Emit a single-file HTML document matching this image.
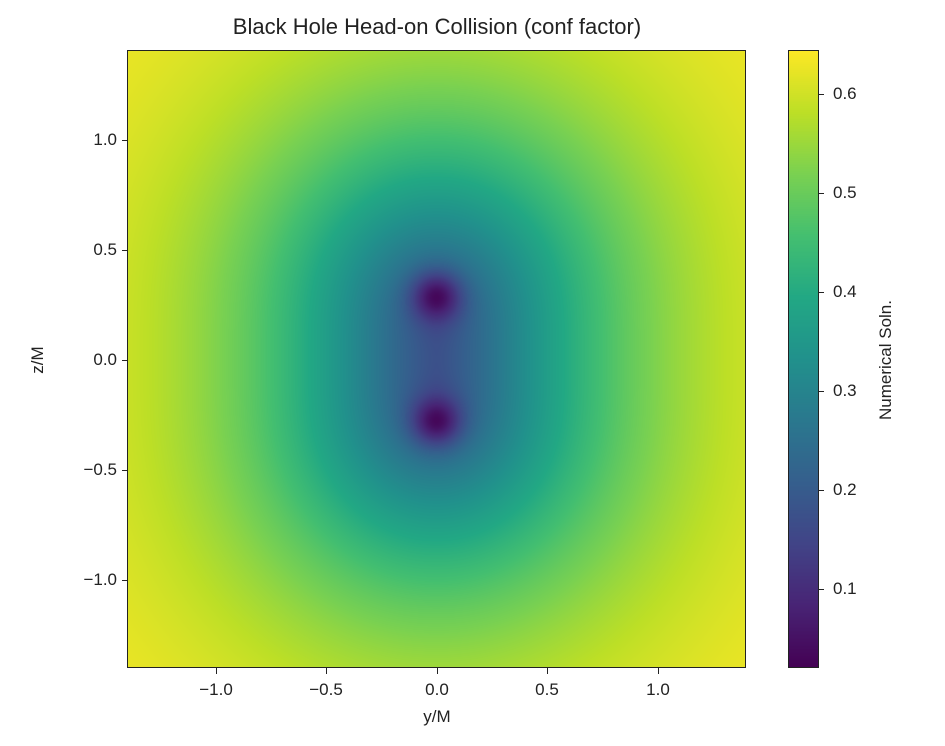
<!DOCTYPE html>
<html><head><meta charset="utf-8"><style>
body{margin:0;background:#fff;width:945px;height:746px;position:relative;overflow:hidden;font-family:"Liberation Sans","DejaVu Sans",sans-serif;color:#222}
canvas{position:absolute}
.t{position:absolute;font-size:17px;white-space:nowrap}
.xl{transform:translateX(-50%);top:680px}
.yl{right:828px;transform:translateY(-50%)}
.cl{left:833px;transform:translateY(-50%)}
.tk{position:absolute;background:#222}
</style></head><body>
<div class="t" style="left:437px;top:14px;transform:translateX(-50%);font-size:22px">Black Hole Head-on Collision (conf factor)</div>
<canvas id="c" width="617" height="616" style="left:128px;top:51px;border:1.3px solid #222;margin:-1px"></canvas>
<canvas id="cb" width="29" height="616" style="left:789px;top:51px;border:1.3px solid #222;margin:-1px"></canvas>
<div class="t xl" style="left:216px">−1.0</div>
<div class="t xl" style="left:326px">−0.5</div>
<div class="t xl" style="left:437px">0.0</div>
<div class="t xl" style="left:547px">0.5</div>
<div class="t xl" style="left:658px">1.0</div>
<div class="t" style="left:437px;top:707px;transform:translateX(-50%)">y/M</div>
<div class="t yl" style="top:140px">1.0</div>
<div class="t yl" style="top:250px">0.5</div>
<div class="t yl" style="top:360px">0.0</div>
<div class="t yl" style="top:470px">−0.5</div>
<div class="t yl" style="top:580px">−1.0</div>
<div class="t" style="left:38px;top:360px;transform:translate(-50%,-50%) rotate(-90deg)">z/M</div>
<div class="t cl" style="top:94px">0.6</div>
<div class="t cl" style="top:193px">0.5</div>
<div class="t cl" style="top:292px">0.4</div>
<div class="t cl" style="top:391px">0.3</div>
<div class="t cl" style="top:490px">0.2</div>
<div class="t cl" style="top:589px">0.1</div>
<div class="t" style="left:886px;top:360px;transform:translate(-50%,-50%) rotate(-90deg)">Numerical Soln.</div>
<div id="ticks"></div>
<script>
var V=[[68,1,84],[72,36,117],[65,68,135],[53,95,141],[42,120,142],[33,145,140],[34,168,132],[68,191,112],[122,209,81],[189,223,38],[253,231,37]];
function cm(t){t=Math.max(0,Math.min(1,t))*10;var i=Math.min(9,Math.floor(t)),f=t-i,a=V[i],b=V[i+1];return[a[0]+(b[0]-a[0])*f,a[1]+(b[1]-a[1])*f,a[2]+(b[2]-a[2])*f];}
function base(d){return 0.175+0.47*(1-Math.exp(-Math.pow(d/0.8,1.4)));}
var vmin=0.021,vmax=0.644;
var c=document.getElementById('c'),x=c.getContext('2d'),W=617,H=616,im=x.createImageData(W,H);
for(var j=0;j<H;j++)for(var i=0;i<W;i++){var px=-1.4+2.8*(i+.5)/W,pz=1.4-2.8*(j+.5)/H;
var sz=Math.sqrt(pz*pz+0.0894)-0.299,d=Math.sqrt(px*px+sz*sz);
var r1=px*px+(pz-0.28)*(pz-0.28),r2=px*px+(pz+0.28)*(pz+0.28);
var v=base(d)*(1-0.84*Math.exp(-r1/0.0121))*(1-0.84*Math.exp(-r2/0.0121));
var col=cm((v-vmin)/(vmax-vmin));var k=(j*W+i)*4;
im.data[k]=col[0];im.data[k+1]=col[1];im.data[k+2]=col[2];im.data[k+3]=255;}
x.putImageData(im,0,0);
var cb=document.getElementById('cb'),y=cb.getContext('2d');
for(var j=0;j<616;j++){var col=cm(1-(j+.5)/616);y.fillStyle='rgb('+col.map(Math.round).join(',')+')';y.fillRect(0,j,29,1);}
var h='';
[216,326,437,547,658].forEach(function(p){h+='<div class="tk" style="left:'+(p-0.5)+'px;top:668px;width:1.2px;height:6px"></div>';});
[140,250,360,470,580].forEach(function(p){h+='<div class="tk" style="left:122px;top:'+(p-0.5)+'px;width:6px;height:1.2px"></div>';});
[94,193,292,391,490,589].forEach(function(p){h+='<div class="tk" style="left:818px;top:'+(p-0.5)+'px;width:6px;height:1.2px"></div>';});
document.getElementById('ticks').innerHTML=h;
</script>
</body></html>
